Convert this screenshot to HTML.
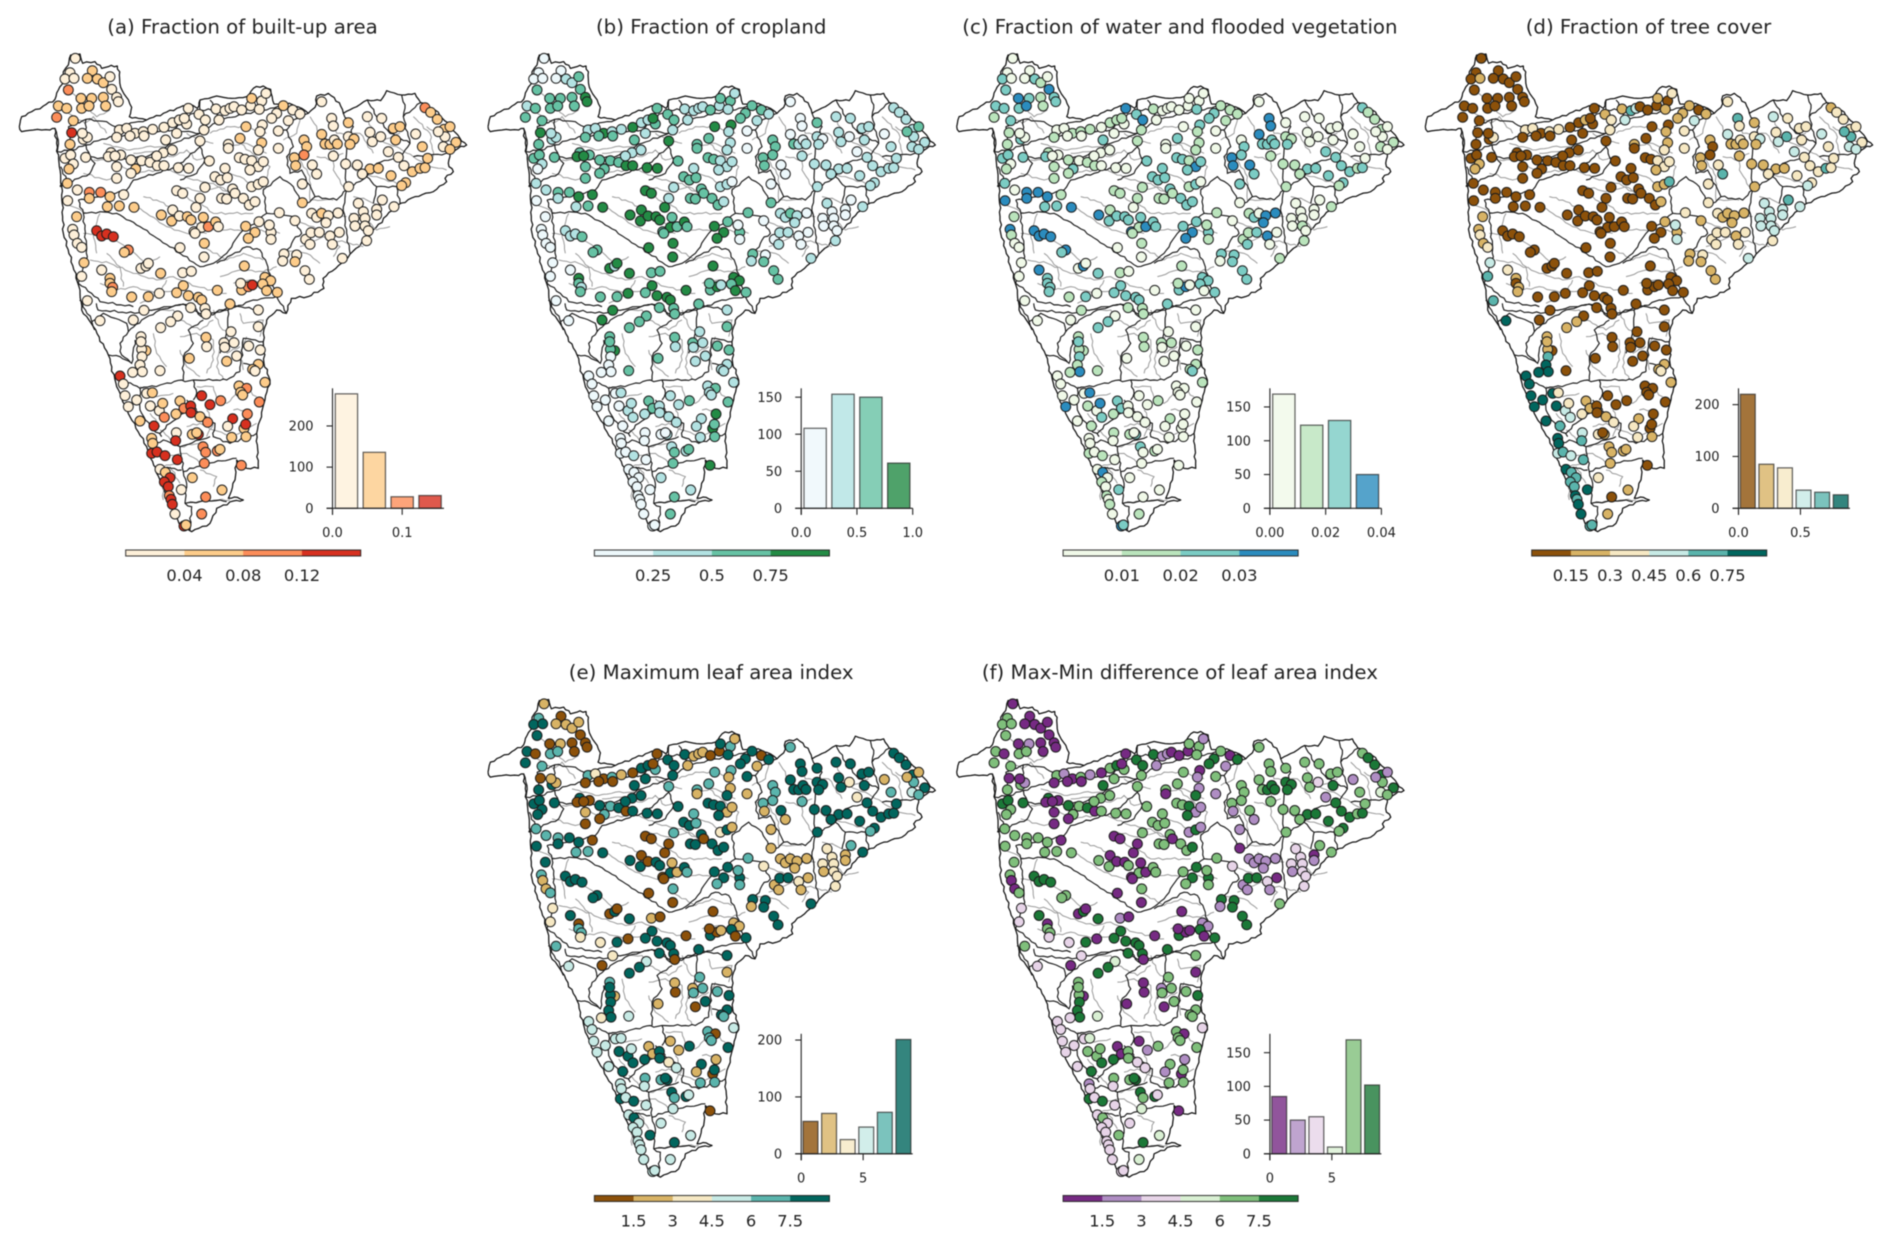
<!DOCTYPE html>
<html lang="en">
<head>
<meta charset="utf-8">
<title>Catchment land-cover maps</title>
<style>
html,body{margin:0;padding:0;background:#fff;width:1892px;height:1245px;overflow:hidden}
svg{display:block;filter:blur(.42px)}
text{font-family:"DejaVu Sans","Liberation Sans",sans-serif;fill:#222}
.riv polyline{fill:none;stroke:#9a9a9a;stroke-width:1;vector-effect:non-scaling-stroke}
.bas polyline{fill:none;stroke:#1a1a1a;stroke-width:1.15;vector-effect:non-scaling-stroke}
.out{fill:#fff;stroke:#111;stroke-width:1.25;vector-effect:non-scaling-stroke;stroke-linejoin:round}
</style>
</head>
<body>
<svg id="figure" xmlns="http://www.w3.org/2000/svg" width="1892" height="1245" viewBox="0 0 1892 1245">
<rect width="1892" height="1245" fill="#fff"/>
<defs>
<g id="base-map">
<polyline id="coast" class="out" points="58,380 65,350 95,335 130,318 165,298 175,270 192,245 190,215 205,195 212,165 240,162 248,190 285,185 305,205 325,200 352,198 358,225 362,262 378,290 395,322 388,350 415,355 440,360 490,340 530,325 570,312 592,325 600,300 650,288 695,295 740,290 760,265 790,258 812,268 822,312 868,310 905,325 925,340 945,322 950,288 985,280 1018,308 1030,340 1070,320 1102,300 1142,302 1160,272 1205,285 1245,280 1262,308 1305,330 1350,378 1380,415 1400,435 1375,445 1350,460 1345,490 1360,515 1335,535 1340,545 1300,575 1245,590 1184,620 1104,710 1024,790 969,835 972,865 924,890 874,895 859,940 830,930 800,960 790,1000 792,1090 810,1140 795,1200 770,1300 775,1405 740,1405 710,1380 705,1440 685,1495 712,1492 730,1500 700,1503 650,1525 630,1570 575,1595 545,1580 520,1535 480,1440 440,1340 390,1250 350,1160 325,1065 280,980 245,930 240,870 190,700 185,560 178,500 170,430 165,385 150,390 100,390 65,395 58,380"/>
<g class="riv">
<polyline points="400,460 460,455 520,470 560,450 590,480 640,470"/>
<polyline points="400,490 470,495 530,520 580,540 640,550 700,590"/>
<polyline points="540,560 600,575 660,560 720,590 770,620"/>
<polyline points="430,590 470,600 510,620 560,650 620,690 680,690 760,690 840,700"/>
<polyline points="390,610 440,640 500,680 560,700 620,700"/>
<polyline points="250,700 330,710 390,750 440,790 480,770"/>
<polyline points="270,780 330,790 400,820 470,840 520,830 590,860 680,880"/>
<polyline points="300,850 350,870 400,860 470,880 540,870"/>
<polyline points="610,740 680,780 730,760 790,780"/>
<polyline points="660,830 720,810 790,815 830,800"/>
<polyline points="190,260 230,290 260,320 290,350 330,330"/>
<polyline points="205,340 255,370 280,350 320,400"/>
<polyline points="860,470 900,480 930,530 930,600 1000,600"/>
<polyline points="930,350 960,400 1000,440 1000,510 1030,560"/>
<polyline points="1030,480 1080,520 1130,530 1190,550"/>
<polyline points="1100,350 1130,420 1190,440 1240,470 1290,500 1340,510"/>
<polyline points="1240,350 1290,400 1300,470"/>
<polyline points="1050,640 1090,650 1130,690 1170,680"/>
<polyline points="880,660 940,680 1000,720 1050,730 1090,740"/>
<polyline points="900,740 970,710 1020,740 1000,770"/>
<polyline points="720,430 770,470 810,500 790,570"/>
<polyline points="640,540 680,520 720,530 760,560"/>
<polyline points="630,400 680,380 740,380 800,400"/>
<polyline points="280,480 340,480 400,520 470,510"/>
<polyline points="250,520 320,540 360,520"/>
<polyline points="200,610 260,640"/>
<polyline points="460,930 520,930 540,960 600,990 640,960"/>
<polyline points="720,940 730,970 790,960 780,1010"/>
<polyline points="540,1010 590,1000 640,1020 640,1080 620,1120"/>
<polyline points="460,1000 470,1060 500,1100"/>
<polyline points="690,1000 660,1040 650,1100 670,1140"/>
<polyline points="740,1010 720,1060 730,1110"/>
<polyline points="590,1160 640,1160 650,1200 680,1210 730,1160 770,1190"/>
<polyline points="560,1280 600,1270 640,1290 700,1310 770,1270"/>
<polyline points="480,1290 540,1340 600,1330"/>
<polyline points="480,1370 560,1360 620,1400"/>
<polyline points="600,1410 650,1430 640,1460"/>
<polyline points="560,1510 620,1500 690,1500"/>
<polyline points="420,1160 470,1190 520,1180"/>
<polyline points="530,1390 490,1400 490,1500"/>
<polyline points="310,430 350,440 390,450 440,440 500,440"/>
<polyline points="560,400 600,420 640,430"/>
<polyline points="680,440 740,430 800,460"/>
<polyline points="850,420 890,400 900,350"/>
<polyline points="980,350 1010,400 1080,400 1120,460"/>
<polyline points="1150,420 1200,400"/>
<polyline points="1280,380 1340,420 1370,440"/>
<polyline points="950,470 1000,480 1030,460"/>
<polyline points="1060,590 1100,600 1140,620"/>
<polyline points="960,620 1000,650 1040,650"/>
<polyline points="860,750 920,760 960,790"/>
<polyline points="700,850 750,840 820,860"/>
<polyline points="420,910 480,880 500,840"/>
<polyline points="600,610 640,640 700,640 760,640"/>
<polyline points="560,590 600,620"/>
<polyline points="300,640 280,700 290,760"/>
<polyline points="320,760 360,800 370,860"/>
<polyline points="640,930 660,980 700,1010"/>
<polyline points="540,1050 560,1100 600,1130"/>
<polyline points="680,1060 720,1040"/>
<polyline points="450,1240 480,1280"/>
<polyline points="510,1400 540,1450"/>
<polyline points="700,1230 750,1230"/>
<polyline points="620,1230 640,1270 620,1310"/>
</g>
<g class="bas">
<polyline points="165,385 175,420 172,455 215,450 258,435 330,410 420,400 520,390 590,330"/>
<polyline points="205,380 258,358 320,365 345,380 440,360"/>
<polyline points="180,560 270,520 285,490 270,470 340,480 440,470 520,430 600,400 660,360 740,340 800,330 870,310"/>
<polyline points="235,600 300,590 380,570 400,540 470,520 530,500 600,440 615,480 590,520 540,540"/>
<polyline points="182,500 200,540 180,560"/>
<polyline points="250,640 300,635 350,640 420,680 480,720 540,760 600,800 640,790 680,760 720,700 800,640 790,570 840,530 880,560 910,620 945,590 1010,600 1040,570 1100,530 1130,560 1190,560 1200,610"/>
<polyline points="235,600 250,640 262,770 235,850 275,880 300,905 400,920"/>
<polyline points="820,400 860,390 880,360 925,340"/>
<polyline points="860,390 880,440 860,470 870,520 905,510 945,590"/>
<polyline points="1100,530 1130,490 1200,470 1230,430 1210,350 1262,308"/>
<polyline points="1040,570 1030,620 1040,700 1050,760"/>
<polyline points="1030,340 1060,380 1040,450 1035,500 1040,570"/>
<polyline points="1102,300 1130,350 1170,400 1230,430"/>
<polyline points="1205,285 1215,325 1210,350"/>
<polyline points="1240,470 1350,460"/>
<polyline points="650,790 740,740 780,750 800,790 830,890 860,940"/>
<polyline points="289,910 294,930 404,940 504,920 574,910 604,950 684,930 760,900 830,890"/>
<polyline points="684,930 684,990 674,1020 660,1060"/>
<polyline points="239,900 274,960 284,990"/>
<polyline points="275,965 310,940 380,970 385,995 360,1030 365,1065 390,1085"/>
<polyline points="385,995 425,960 480,930 550,912 610,945 670,930 700,915 770,930"/>
<polyline points="325,1065 360,1070 395,1090 405,1020"/>
<polyline points="350,1130 420,1165 480,1155 545,1140 555,1145 580,1140 650,1140 680,1140 720,1115"/>
<polyline points="550,1140 550,1070 580,1030 565,990 610,960"/>
<polyline points="580,1140 590,1180 580,1200"/>
<polyline points="720,1115 730,1015 790,1025"/>
<polyline points="730,1090 770,1100"/>
<polyline points="420,1165 420,1230 450,1280 485,1310"/>
<polyline points="480,1300 510,1270 550,1240 585,1230 600,1240 645,1270 640,1310 690,1330 770,1300"/>
<polyline points="445,1340 490,1320 540,1340 600,1320 630,1310"/>
<polyline points="540,1340 550,1415 590,1400 620,1390 710,1375"/>
<polyline points="550,1415 560,1450 555,1510 575,1520 570,1590"/>
<polyline points="480,1400 545,1410"/>
<polyline points="555,1510 600,1505 660,1500 680,1505"/>
<polyline points="258,358 255,395"/>
<polyline points="590,330 660,330"/>
<polyline points="630,300 660,360"/>
<polyline points="600,300 600,330"/>
<polyline points="520,390 600,400"/>
<polyline points="205,380 215,430"/>
<polyline points="880,650 905,700 880,720 860,760"/>
<polyline points="800,640 880,650"/>
<polyline points="1130,560 1120,610"/>
<polyline points="270,470 258,435"/>
<polyline points="560,1200 590,1230"/>
</g>
</g>
</defs>
</svg>
<script>
const stationEasting=[
226,210,195,222,277,262,292,310,330,205,335,243,275,310,350,175,200,245,267,317,
355,170,220,215,210,250,262,247,195,212,220,207,257,333,325,362,345,393,350,407,
393,350,425,450,472,492,490,517,470,535,566,628,358,380,350,405,390,430,432,458,
492,518,538,560,565,553,497,530,597,616,612,600,648,657,675,690,702,725,752,755,
785,798,778,850,878,900,830,815,865,738,787,780,835,720,785,835,775,685,685,718,
735,755,775,750,790,675,645,662,682,698,705,665,680,730,748,765,755,775,790,615,
530,548,600,588,518,484,515,538,562,573,582,605,625,610,647,655,585,540,613,612,
737,777,765,745,813,813,808,838,907,883,887,912,920,912,937,950,965,965,995,1000,
975,990,1003,1012,1000,1045,1045,1062,1050,1102,1145,1110,1117,1142,1180,1200,1187,1247,1267,1165,
1195,1212,1237,1260,1275,1283,1037,1072,1110,1135,1087,1173,1046,1217,1205,1275,1292,1312,1332,1350,
1330,1368,1350,1335,1315,202,232,203,268,302,268,330,371,322,358,402,230,218,222,232,
245,290,305,320,340,385,373,252,245,305,330,330,338,335,262,423,438,445,482,548,
574,733,852,890,848,885,915,928,1027,1100,1147,1182,1075,1130,1090,1130,1062,1095,1065,1095,
1105,907,885,935,950,965,985,1014,978,917,933,958,930,1018,990,997,550,530,565,595,
605,652,478,445,395,725,745,757,722,795,812,788,800,832,690,775,572,615,618,432,
300,400,533,512,482,775,693,618,620,672,702,674,746,781,680,710,568,423,438,425,
423,426,420,427,398,480,360,370,375,385,410,420,440,457,451,478,488,493,528,540,
552,572,573,605,630,662,600,623,698,742,732,737,683,778,717,740,722,728,775,758,
765,795,695,738,577,595,590,529,527,462,455,458,455,471,495,532,609,617,613,652,
660,724,577,544,666,617,605,480,496,510,493,505,508,513,517,525,552,558];
const stationNorthing=[
1425,1382,1363,1365,1388,1365,1363,1352,1370,1330,1332,1305,1305,1308,1308,1282,1275,1275,1282,1282,
1295,1248,1238,1202,1167,1182,1188,1200,1125,1135,1108,1093,1128,1142,1130,1135,1132,1120,1100,1093,
1080,1065,1118,1113,1103,1103,1142,1150,1132,1097,1095,1117,1210,1215,1188,1200,1192,1205,1192,1212,
1218,1232,1240,1228,1275,1245,1180,1200,1257,1240,1210,1177,1273,1240,1268,1275,1280,1270,1283,1305,
1297,1320,1272,1283,1270,1258,1260,1245,1238,1220,1225,1205,1207,1185,1172,1155,1150,1167,1155,1127,
1122,1118,1100,1090,1115,1095,1070,1060,1067,1033,1020,1005,1003,1005,985,995,1040,1047,1055,1038,
1028,1020,1005,978,970,955,937,952,950,940,905,918,920,948,934,920,900,857,870,829,
921,935,903,885,903,882,925,962,1048,1127,1103,1180,1160,1135,1105,1078,1295,1197,1245,1222,
1168,1167,1180,1168,1132,1232,1190,1183,1167,1250,1245,1203,1175,1190,1215,1220,1180,1198,1160,1145,
1128,1103,1085,1095,1097,1125,1108,1105,1093,1095,1078,1073,1040,1052,1043,1277,1263,1242,1212,1220,
1160,1173,1152,1190,1205,1050,1030,998,1023,1023,1005,1010,1016,980,982,978,950,912,895,870,
858,908,892,898,890,850,843,812,771,790,765,750,738,725,698,795,802,810,780,782,
786,802,838,835,817,815,788,762,825,878,1000,980,990,972,965,955,945,945,922,922,
908,992,938,960,948,960,953,961,932,882,902,903,867,903,892,867,743,722,713,708,
700,729,720,710,709,730,740,745,750,768,758,748,728,723,688,670,677,675,658,669,
638,640,652,635,617,620,605,588,560,572,572,558,562,550,516,532,525,590,548,552,
575,530,505,485,483,488,472,448,413,380,400,337,420,422,382,368,390,348,358,397,
375,382,362,413,386,398,350,333,344,358,315,327,321,394,442,435,423,415,507,492,
487,453,288,290,297,297,302,302,278,322,285,270,240,244,233,221,260,243,210,247,
252,204,167,131,130,109,58,192,183,167,154,140,113,102,87,58,22,25];
const builtUpPct=[
2,2,2,2,6,6,6,6,2,10,2,6,6,6,2,6,6,6,6,6,
2,10,6,14,6,2,2,2,2,2,2,6,2,2,2,2,2,2,2,6,
2,2,2,2,2,2,2,2,2,2,2,2,2,2,2,2,2,2,2,2,
2,2,2,2,2,2,2,2,2,2,2,2,2,2,2,2,2,2,2,6,
2,2,2,6,2,2,2,2,2,6,2,2,2,6,6,2,2,2,2,2,
2,2,2,2,2,2,2,2,2,2,2,2,2,2,2,2,2,2,2,2,
2,2,2,2,2,6,6,2,6,6,2,2,10,6,6,2,2,2,6,2,
6,2,6,6,2,2,2,2,2,6,6,6,6,10,2,2,2,6,2,2,
6,6,2,6,2,6,2,6,6,2,2,2,2,2,6,6,6,2,6,2,
2,2,6,6,6,6,2,2,6,6,2,6,2,6,6,10,6,6,6,6,
2,6,6,2,2,6,2,2,10,10,6,6,2,6,6,6,6,2,2,2,
2,14,14,14,14,10,6,6,2,2,6,6,10,6,2,2,2,2,6,2,
2,6,2,2,2,6,2,2,2,2,2,2,2,2,2,2,2,2,2,2,
2,6,2,2,2,6,2,2,2,2,2,2,2,2,2,2,6,6,6,6,
6,6,2,6,6,6,10,14,2,6,6,6,6,6,6,2,2,2,2,2,
2,2,2,2,2,2,2,6,2,2,2,2,2,2,6,2,6,2,6,2,
2,2,2,2,2,2,14,2,2,2,2,6,2,6,2,2,6,10,6,6,
10,14,14,14,14,10,6,10,14,10,6,14,2,10,6,10,6,6,6,6,
2,6,6,6,6,14,6,2,14,14,6,6,14,14,14,14,10,10,10,10,
6,10,6,2,6,10,10,2,6,14,14,14,10,14,14,2,14,6];
const croplandPct=[
12,12,12,12,12,12,37,37,62,62,62,62,62,62,87,37,62,62,62,62,
87,62,62,87,62,37,37,37,62,62,37,12,62,62,87,62,87,62,62,62,
62,62,62,62,87,87,37,37,37,87,87,62,37,37,62,87,62,37,62,37,
87,37,37,62,62,87,62,37,62,62,37,87,37,37,37,37,37,62,37,62,
62,37,37,62,62,37,62,62,37,87,87,37,12,62,37,12,37,62,62,62,
62,37,37,37,37,37,62,62,62,62,62,62,62,62,62,37,37,37,12,37,
87,87,37,87,87,87,87,87,87,87,62,87,62,62,87,62,62,87,87,87,
87,62,87,87,62,12,12,62,12,62,62,62,62,62,12,12,12,12,12,12,
62,37,12,37,37,62,37,12,37,37,37,37,37,12,37,37,37,12,37,12,
37,37,37,37,37,37,37,37,37,37,37,37,37,37,37,37,37,37,37,62,
37,37,37,37,62,37,37,12,62,62,37,87,87,37,62,87,12,12,12,12,
12,37,37,37,62,62,62,12,12,12,87,62,37,62,12,87,37,87,87,62,
62,87,62,12,37,62,62,62,37,37,12,37,37,12,12,12,12,12,12,12,
12,62,12,37,37,62,37,12,37,12,37,37,37,12,12,12,87,62,87,87,
87,87,87,62,62,62,87,37,62,87,87,62,87,62,62,37,62,62,62,87,
12,87,62,62,62,62,37,62,37,62,37,37,62,62,37,37,62,62,87,62,
62,12,12,12,12,62,12,12,12,12,12,12,12,37,12,37,37,37,37,62,
62,37,37,37,37,62,37,37,37,87,87,62,37,62,37,62,37,37,37,37,
37,37,37,62,12,37,12,12,12,12,12,12,12,12,37,12,37,62,62,37,
62,87,37,12,37,62,62,12,12,12,12,12,12,12,12,12,12,12];
const waterPermille=[
5,5,25,5,5,5,25,15,5,25,35,35,25,15,25,25,25,25,35,15,
25,15,25,15,15,25,5,5,25,25,5,15,25,15,25,5,5,15,15,25,
15,15,5,15,15,5,5,5,5,5,5,25,5,5,15,15,5,15,5,15,
5,15,15,5,35,15,25,5,25,35,15,15,15,5,5,5,5,5,5,5,
5,5,25,15,15,15,25,25,15,5,25,15,5,25,15,5,15,5,5,25,
25,15,35,25,25,25,25,25,25,25,15,15,15,25,25,25,15,25,5,15,
15,15,15,5,15,35,25,25,25,25,35,15,35,25,25,25,15,5,15,5,
25,25,35,35,25,15,15,15,25,35,35,5,25,25,35,25,5,35,35,35,
25,25,25,25,15,5,15,15,25,5,5,5,5,5,5,5,5,5,5,25,
25,25,25,15,25,5,15,15,25,25,15,25,15,25,15,25,15,15,15,5,
15,15,5,5,5,25,5,35,35,35,35,35,15,25,25,35,15,35,15,5,
5,35,35,35,35,35,25,5,5,35,25,25,25,25,5,5,35,5,25,15,
5,15,25,25,5,25,25,25,15,15,5,15,5,5,5,5,5,5,5,15,
5,5,5,15,25,5,35,35,35,15,15,25,25,5,35,5,25,25,25,25,
25,5,5,25,15,25,35,5,15,25,25,25,5,25,25,5,15,15,15,15,
5,5,5,25,25,5,5,15,15,15,15,5,5,15,5,5,5,15,15,15,
25,25,15,35,15,15,5,5,5,35,5,5,5,35,15,5,35,25,15,25,
25,5,5,5,5,15,5,5,15,5,5,5,5,5,5,5,5,5,15,15,
25,15,5,5,15,25,5,15,5,15,5,5,15,5,15,5,25,5,5,15,
5,5,5,25,5,5,15,5,35,5,15,5,15,5,15,5,35,25];
const treeCoverPct=[
7,7,7,22,7,7,7,7,7,7,7,7,7,7,7,7,7,7,7,7,
7,7,7,7,7,7,37,7,7,7,22,22,7,7,7,7,7,7,7,7,
7,7,7,7,7,7,7,7,7,7,7,7,37,37,7,7,7,37,7,37,
7,7,22,7,7,7,7,7,22,37,37,7,22,52,67,52,7,7,7,22,
7,37,22,22,7,22,22,22,52,7,7,22,37,7,22,37,37,22,7,7,
7,37,37,22,37,7,7,7,7,7,7,7,7,7,7,22,22,22,67,7,
7,7,7,7,7,7,7,7,7,7,7,7,7,7,7,7,7,7,7,7,
7,22,7,7,22,52,52,37,37,22,22,22,7,7,37,67,37,52,67,37,
22,22,37,22,22,22,37,52,22,52,37,37,52,67,37,37,37,52,37,52,
37,37,37,67,37,37,22,22,22,22,37,37,22,37,52,22,37,37,37,37,
52,37,52,67,67,7,7,7,7,7,7,7,7,7,7,7,22,22,37,22,
37,7,7,7,7,7,7,52,67,37,22,7,22,22,67,7,7,7,7,7,
7,7,22,37,22,22,22,22,52,37,67,52,52,52,52,52,52,52,52,52,
52,37,22,37,22,22,22,22,22,37,37,37,37,37,22,37,7,7,7,7,
7,7,7,7,7,7,7,7,7,7,7,7,7,7,7,7,7,7,7,7,
82,7,7,22,22,7,7,7,7,7,7,7,7,7,7,7,7,22,7,22,
22,67,82,82,82,7,82,82,82,82,82,82,82,37,82,52,37,52,37,22,
22,7,7,7,7,7,22,37,22,7,7,7,37,7,7,7,7,7,22,22,
37,22,37,22,37,22,7,52,67,67,82,82,52,67,52,67,22,22,22,22,
22,7,37,82,22,7,22,82,67,67,67,67,82,67,82,82,67,67];
const laiMaxTenths=[
22,67,82,82,7,22,22,22,22,82,7,7,22,7,7,82,7,67,67,7,
7,82,67,7,82,82,22,22,82,82,82,82,82,82,7,7,7,82,22,67,
7,7,67,82,7,82,82,82,82,82,82,82,67,37,7,7,7,67,7,22,
7,82,82,67,7,7,82,82,82,82,82,67,82,22,22,22,22,7,7,82,
67,22,82,82,7,82,82,82,22,67,67,22,82,67,22,22,82,67,22,82,
82,82,22,82,22,67,82,82,67,82,7,82,82,82,82,82,37,82,22,67,
7,7,7,7,7,82,82,7,82,82,7,82,22,22,82,67,7,7,67,7,
82,82,82,67,82,67,67,67,22,67,22,67,67,67,82,22,67,82,82,82,
82,82,82,82,67,82,82,82,82,82,82,82,82,37,82,82,82,22,67,37,
82,82,82,82,82,82,82,82,82,82,82,82,82,82,67,82,82,82,82,22,
52,82,67,67,22,67,67,82,67,82,82,82,7,67,67,82,82,67,22,22,
67,82,82,82,82,82,82,37,37,82,7,67,67,37,67,7,82,7,82,22,
7,7,82,82,22,82,82,82,82,37,67,82,37,22,37,22,37,37,22,37,
37,22,37,22,22,22,22,22,22,22,82,82,22,22,37,22,82,82,82,82,
82,7,7,82,37,82,7,22,7,22,22,82,7,82,82,82,82,82,7,37,
52,7,52,82,82,22,67,22,7,22,67,67,67,82,7,82,22,67,22,82,
82,82,82,82,37,52,52,52,52,52,52,52,52,52,82,82,52,82,82,22,
22,82,82,22,22,82,37,52,82,22,7,82,22,82,67,7,67,67,82,82,
67,52,67,67,67,82,82,67,52,82,52,52,82,52,82,52,82,67,52,82,
52,7,52,82,52,82,52,52,82,52,52,52,52,52,52,52,52,52];
const laiDiffTenths=[
7,67,67,67,7,7,7,7,7,67,7,7,22,7,7,67,7,67,67,7,
7,67,67,7,67,67,22,7,82,82,67,67,82,82,7,7,7,82,7,67,
7,7,67,82,7,67,67,67,67,67,67,67,67,22,7,7,7,67,7,22,
7,67,82,67,7,7,82,67,82,82,67,67,82,22,22,22,7,7,7,67,
67,22,67,67,7,82,82,82,22,67,7,22,67,67,22,22,82,67,7,67,
67,82,22,82,22,67,67,67,67,67,7,67,67,67,67,82,22,82,22,67,
7,7,7,7,7,67,67,7,7,67,7,67,7,7,67,67,7,7,67,7,
67,82,82,67,82,67,67,67,22,67,22,67,67,67,67,22,67,67,67,67,
67,82,82,82,67,67,82,82,82,67,67,67,67,37,67,67,82,22,67,22,
82,82,82,67,82,67,67,67,82,82,67,82,67,82,67,67,82,82,82,22,
52,82,67,67,22,67,67,67,67,67,67,67,7,67,67,67,67,67,7,7,
67,82,82,82,82,67,67,37,37,82,7,67,67,37,67,7,82,7,82,22,
7,7,82,82,22,82,82,82,67,37,67,67,37,7,37,22,37,37,22,37,
37,7,37,22,22,22,22,22,22,22,82,82,22,7,37,22,82,82,82,82,
82,7,7,82,37,82,7,7,7,22,22,82,7,82,82,67,82,82,7,37,
37,7,52,82,82,7,67,7,7,22,67,67,67,82,7,67,7,67,7,67,
67,82,82,82,37,52,37,37,37,37,37,37,37,52,67,67,67,82,82,7,
7,67,67,7,22,67,37,37,67,22,7,67,22,67,67,7,67,67,67,67,
67,37,67,67,67,82,82,67,37,82,22,37,82,37,82,37,82,67,52,82,
37,7,37,67,52,82,52,37,67,37,37,37,37,37,37,37,37,37];

const histBuiltUp=[278,136,28,31];
const histCropland=[108,154,150,61];
const histWater=[169,123,130,50];
const histTreeCover=[220,85,78,35,31,26];
const histLaiMax=[57,71,25,47,73,201];
const histLaiDiff=[85,50,55,10,169,102];

const panelTitles=["(a) Fraction of built-up area","(b) Fraction of cropland","(c) Fraction of water and flooded vegetation","(d) Fraction of tree cover","(e) Maximum leaf area index","(f) Max-Min difference of leaf area index"];
const panelSlugs=["built-up","cropland","water","tree-cover","lai-max","lai-diff"];
const valueBreaks=[[4,8,12],[25,50,75],[10,20,30],[15,30,45,60,75],[15,30,45,60,75],[15,30,45,60,75]];
const cbarTickValues=[[0.04,0.08,0.12],[0.25,0.5,0.75],[0.01,0.02,0.03],[0.15,0.3,0.45,0.6,0.75],[1.5,3,4.5,6,7.5],[1.5,3,4.5,6,7.5]];
const cbarTickLabels=[["0.04","0.08","0.12"],["0.25","0.5","0.75"],["0.01","0.02","0.03"],["0.15","0.3","0.45","0.6","0.75"],["1.5","3","4.5","6","7.5"],["1.5","3","4.5","6","7.5"]];
const cbarMax=[0.16,1,0.04,0.9,9,9];
const histBinWidth=[0.04,0.25,0.01,0.15,1.5,1.5];
const histXMax=[0.16,1,0.04,0.9,9,9];
const histYMax=[291.5,162,177.6,231.5,211,178];
const histXTicks=[[0,0.1],[0,0.5,1],[0,0.02,0.04],[0,0.5],[0,5],[0,5]];
const histXLabels=[["0.0","0.1"],["0.0","0.5","1.0"],["0.00","0.02","0.04"],["0.0","0.5"],["0","5"],["0","5"]];
const histYTicks=[[0,100,200],[0,50,100,150],[0,50,100,150],[0,100,200],[0,100,200],[0,50,100,150]];

const stationValues=[builtUpPct,croplandPct,waterPermille,treeCoverPct,laiMaxTenths,laiDiffTenths];
const histCounts=[histBuiltUp,histCropland,histWater,histTreeCover,histLaiMax,histLaiDiff];
const palettes=[
["#fef0d9","#fdcc8a","#fc8d59","#d7301f"],
["#edf8fb","#b2e2e2","#66c2a4","#238b45"],
["#f0f9e8","#bae4bc","#7bccc4","#2b8cbe"],
["#8c510a","#d8b365","#f6e8c3","#c7eae5","#5ab4ac","#01665e"],
["#8c510a","#d8b365","#f6e8c3","#c7eae5","#5ab4ac","#01665e"],
["#762a83","#af8dc3","#e7d4e8","#d9f0d3","#7fbf7b","#1b7837"]];
const panelOffsetX=[0,468.7,937.4,1406,468.7,937.4];
const panelOffsetY=[0,0,0,0,645.5,645.5];

const SVGNS="http://www.w3.org/2000/svg";
const root=document.getElementById("figure");
function mk(tag,attrs,parent){
  const el=document.createElementNS(SVGNS,tag);
  for(const k in attrs)el.setAttribute(k,attrs[k]);
  parent.appendChild(el);
  return el;
}
function colorFor(breaks,palette,v){
  let i=0;
  while(i<breaks.length&&v>=breaks[i])i++;
  return palette[i];
}
// Give hand-traced basin and coast lines a natural jagged look (decorative base map only).
let wiggleStep=0;
document.querySelectorAll("#base-map polyline").forEach(line=>{
  const nums=line.getAttribute("points").trim().split(/[\s,]+/).map(Number);
  const out=[];
  for(let i=0;i+3<nums.length;i+=2){
    const ax=nums[i],ay=nums[i+1],bx=nums[i+2],by=nums[i+3];
    const len=Math.hypot(bx-ax,by-ay);
    const steps=Math.max(1,Math.ceil(len/13));
    for(let j=0;j<steps;j++){
      const t=j/steps;
      wiggleStep++;
      const off=j===0?0:3.4*Math.sin(wiggleStep*2.3)*Math.cos(wiggleStep*0.73);
      out.push((ax+(bx-ax)*t-(by-ay)/len*off).toFixed(1)+","+(ay+(by-ay)*t+(bx-ax)/len*off).toFixed(1));
    }
  }
  out.push(nums[nums.length-2]+","+nums[nums.length-1]);
  line.setAttribute("points",out.join(" "));
});
const projX=e=>e/3;
const projY=n=>(1600-n)/3;
const HX0=332.5,HX1=444,HY0=508.3,HY1=388.3;

panelTitles.forEach((title,p)=>{
  const g=mk("g",{transform:"translate("+panelOffsetX[p]+","+panelOffsetY[p]+")"},root);
  
  

  const t=mk("text",{x:242.5,y:33.5,"text-anchor":"middle","font-size":"19.75"},g);
  t.textContent=title;
  
  

  const map=mk("g",{},g);
  
  
  const base=mk("g",{transform:"scale(0.33333)"},map);
  mk("use",{href:"#base-map"},base);

  const dots=mk("g",{},map);
  
  
  stationEasting.forEach((e,i)=>{
    const c=mk("circle",{cx:projX(e).toFixed(2),cy:projY(stationNorthing[i]).toFixed(2),r:4.95,fill:colorFor(valueBreaks[p],palettes[p],stationValues[p][i]),stroke:"#1c1c1c","stroke-width":1},dots);
    
    
  });

  const cb=mk("g",{},g);
  
  
  const CB0=125.7,CBW=235,CBY=550,CBH=6;
  const cbX=v=>CB0+v/cbarMax[p]*CBW;
  const n=palettes[p].length;
  palettes[p].forEach((col,k)=>{
    const r=mk("rect",{x:CB0+CBW*k/n,y:CBY,width:CBW/n+.3,height:CBH,fill:col},cb);
    
    
  });
  mk("rect",{x:CB0,y:CBY,width:CBW,height:CBH,fill:"none",stroke:"#222","stroke-width":1.1,"stroke-opacity":.85},cb);
  cbarTickValues[p].forEach((v,k)=>{
    const l=mk("text",{x:cbX(v),y:580.8,"text-anchor":"middle","font-size":"16.3"},cb);
    l.textContent=cbarTickLabels[p][k];
    
    
  });

  const h=mk("g",{},g);
  
  
  const hx=v=>HX0+v/histXMax[p]*(HX1-HX0);
  const hy=v=>HY0-v/histYMax[p]*(HY0-HY1);
  histCounts[p].forEach((cnt,k)=>{
    const w=histBinWidth[p];
    const x0=hx(k*w+0.1*w),x1=hx(k*w+0.9*w);
    const b=mk("rect",{x:x0,y:hy(cnt),width:x1-x0,height:HY0-hy(cnt),fill:palettes[p][k],"fill-opacity":.8,stroke:"#222","stroke-opacity":.7,"stroke-width":1.25},h);
    
    
  });
  mk("line",{x1:HX0,x2:HX0,y1:HY1,y2:HY0+6.5,stroke:"#222","stroke-width":1.1},h);
  mk("line",{x1:HX0-6,x2:HX1,y1:HY0,y2:HY0,stroke:"#222","stroke-width":1.1},h);
  histYTicks[p].forEach(v=>{
    mk("line",{x1:HX0-6,x2:HX0,y1:hy(v),y2:hy(v),stroke:"#222","stroke-width":1.1},h);
    const l=mk("text",{x:313.5,y:hy(v)+4.6,"text-anchor":"end","font-size":"13"},h);
    l.textContent=String(v);
    
    
  });
  histXTicks[p].forEach((v,k)=>{
    mk("line",{x1:hx(v),x2:hx(v),y1:HY0,y2:HY0+6.5,stroke:"#222","stroke-width":1.1},h);
    const l=mk("text",{x:hx(v),y:536.8,"text-anchor":"middle","font-size":"13"},h);
    l.textContent=histXLabels[p][k];
    
    
  });
});
</script>
</body>
</html>
